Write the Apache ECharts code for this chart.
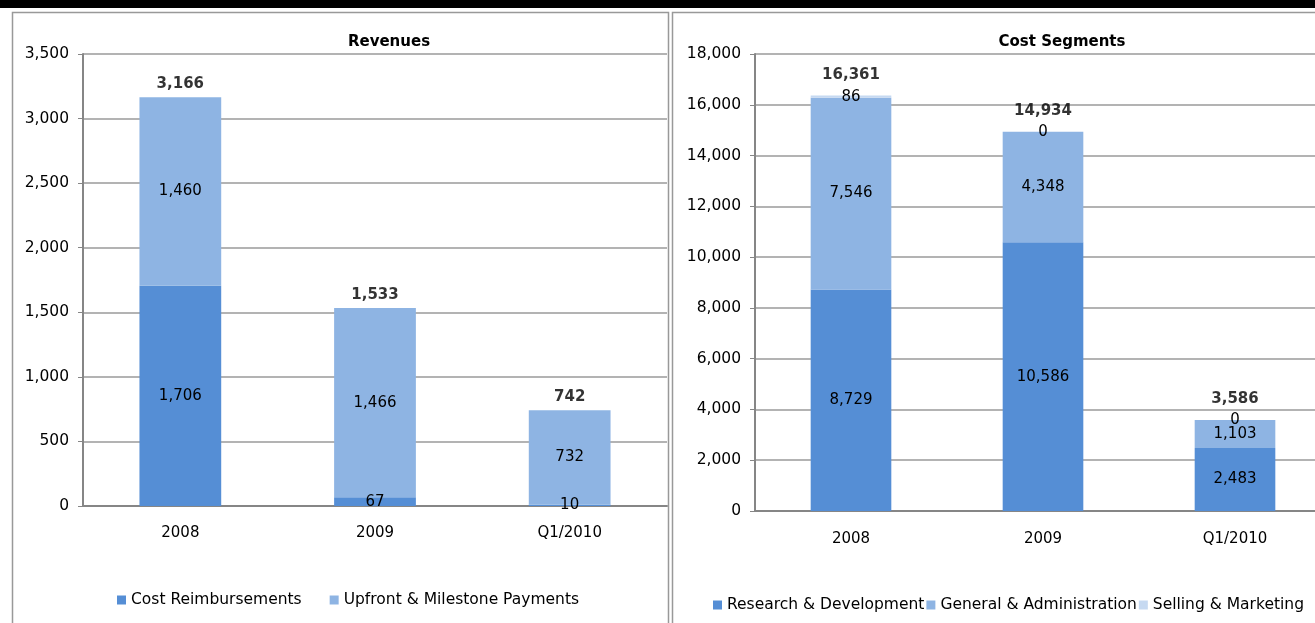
<!DOCTYPE html>
<html>
<head>
<meta charset="utf-8">
<script src="https://cdn.jsdelivr.net/npm/echarts@6/dist/echarts.min.js"></script>
<style>
html,body{margin:0;padding:0;background:#fff;overflow:hidden;}
#c{width:1345px;height:623px;}
</style>
</head>
<body>
<div id="c"></div>
<script>
// ---- data ----
var revCategories = ['2008', '2009', 'Q1/2010'];
var costReimbursements = [1706, 67, 10];
var upfrontMilestone = [1460, 1466, 732];

var costCategories = ['2008', '2009', 'Q1/2010'];
var researchDev = [8729, 10586, 2483];
var generalAdmin = [7546, 4348, 1103];
var sellingMarketing = [86, 0, 0];

var revTicks = [0, 3500, 500];      // min, max, interval
var costTicks = [0, 18000, 2000];

// totals derived from the segment arrays
var revTotals = revCategories.map(function (_, i) { return costReimbursements[i] + upfrontMilestone[i]; });
var costTotals = costCategories.map(function (_, i) { return researchDev[i] + generalAdmin[i] + sellingMarketing[i]; });

var FONT = 'DejaVu Sans';
var FS = 15;
var C1 = '#558ED5', C2 = '#8EB4E3', C3 = '#C6D9F1';
var fmt = function (v) { return Number(v).toLocaleString('en-US'); };

function segLabel() {
  return { show: true, position: 'inside', color: '#000', fontFamily: FONT, fontSize: FS,
    formatter: function (p) { return fmt(p.value); } };
}
function yAxis(ix, t) {
  return {
    type: 'value', gridIndex: ix, min: t[0], max: t[1], interval: t[2],
    axisLine: { show: true, lineStyle: { color: '#868686', width: 2 } },
    axisTick: { show: true, length: 5, lineStyle: { color: '#868686' } },
    splitLine: { show: true, lineStyle: { color: '#9a9a9a', width: 1.5 } },
    axisLabel: { color: '#000', fontFamily: FONT, fontSize: 15.5, margin: 14,
      formatter: function (v) { return fmt(v); } }
  };
}
function xAxis(ix, cats, m) {
  return {
    type: 'category', gridIndex: ix, data: cats,
    axisLine: { show: true, lineStyle: { color: '#868686', width: 2 } },
    axisTick: { show: false },
    axisLabel: { color: '#000', fontFamily: FONT, fontSize: FS, margin: m }
  };
}
function totals(ix, data, dist) {
  return {
    type: 'scatter', xAxisIndex: ix, yAxisIndex: ix, data: data, symbolSize: 1,
    itemStyle: { color: 'rgba(0,0,0,0)' }, silent: true, z: 10,
    label: { show: true, position: 'top', distance: dist, color: '#000', fontFamily: FONT,
      fontSize: FS, fontWeight: 'bold', formatter: function (p) { return fmt(p.value); } }
  };
}

var chart = echarts.init(document.getElementById('c'));
chart.setOption({
  animation: false,
  textStyle: { fontFamily: FONT },
  graphic: [
    { type: 'rect', shape: { x: 0, y: 0, width: 1345, height: 8 }, style: { fill: '#000' } },
    { type: 'rect', shape: { x: 12.5, y: 12.5, width: 656, height: 640 }, style: { fill: 'none', stroke: '#999', lineWidth: 1.5 } },
    { type: 'rect', shape: { x: 672.5, y: 12.5, width: 700, height: 640 }, style: { fill: 'none', stroke: '#999', lineWidth: 1.5 } }
  ],
  title: [
    { text: 'Revenues', left: 384, top: 30, textAlign: 'center',
      textStyle: { fontFamily: FONT, fontSize: FS, fontWeight: 'bold', color: '#000' } },
    { text: 'Cost Segments', left: 1057, top: 30, textAlign: 'center',
      textStyle: { fontFamily: FONT, fontSize: FS, fontWeight: 'bold', color: '#000' } }
  ],
  legend: [
    { left: 112, top: 587, itemWidth: 9, itemHeight: 9, itemGap: 28, icon: 'rect',
      textStyle: { fontFamily: FONT, fontSize: 15.5, color: '#000' },
      data: ['Cost Reimbursements', 'Upfront & Milestone Payments'] },
    { left: 708, top: 592, itemWidth: 9, itemHeight: 9, itemGap: 2, icon: 'rect',
      textStyle: { fontFamily: FONT, fontSize: 15.5, color: '#000' },
      data: ['Research & Development', 'General & Administration', 'Selling & Marketing'] }
  ],
  grid: [
    { left: 83, top: 54, width: 584, height: 452 },
    { left: 755, top: 54, width: 576, height: 457 }
  ],
  xAxis: [xAxis(0, revCategories, 20), xAxis(1, costCategories, 21)],
  yAxis: [yAxis(0, revTicks), yAxis(1, costTicks)],
  series: [
    { name: 'Cost Reimbursements', type: 'bar', stack: 'r', xAxisIndex: 0, yAxisIndex: 0,
      barWidth: '42%', data: costReimbursements, itemStyle: { color: C1 }, label: segLabel() },
    { name: 'Upfront & Milestone Payments', type: 'bar', stack: 'r', xAxisIndex: 0, yAxisIndex: 0,
      barWidth: '42%', data: upfrontMilestone, itemStyle: { color: C2 }, label: segLabel() },
    totals(0, revTotals, 5),
    { name: 'Research & Development', type: 'bar', stack: 'c', xAxisIndex: 1, yAxisIndex: 1,
      barWidth: '42%', data: researchDev, itemStyle: { color: C1 }, label: segLabel() },
    { name: 'General & Administration', type: 'bar', stack: 'c', xAxisIndex: 1, yAxisIndex: 1,
      barWidth: '42%', data: generalAdmin, itemStyle: { color: C2 }, label: segLabel() },
    { name: 'Selling & Marketing', type: 'bar', stack: 'c', xAxisIndex: 1, yAxisIndex: 1,
      barWidth: '42%', data: sellingMarketing, itemStyle: { color: C3 }, label: segLabel() },
    totals(1, costTotals, 13)
  ]
});
</script>
</body>
</html>
